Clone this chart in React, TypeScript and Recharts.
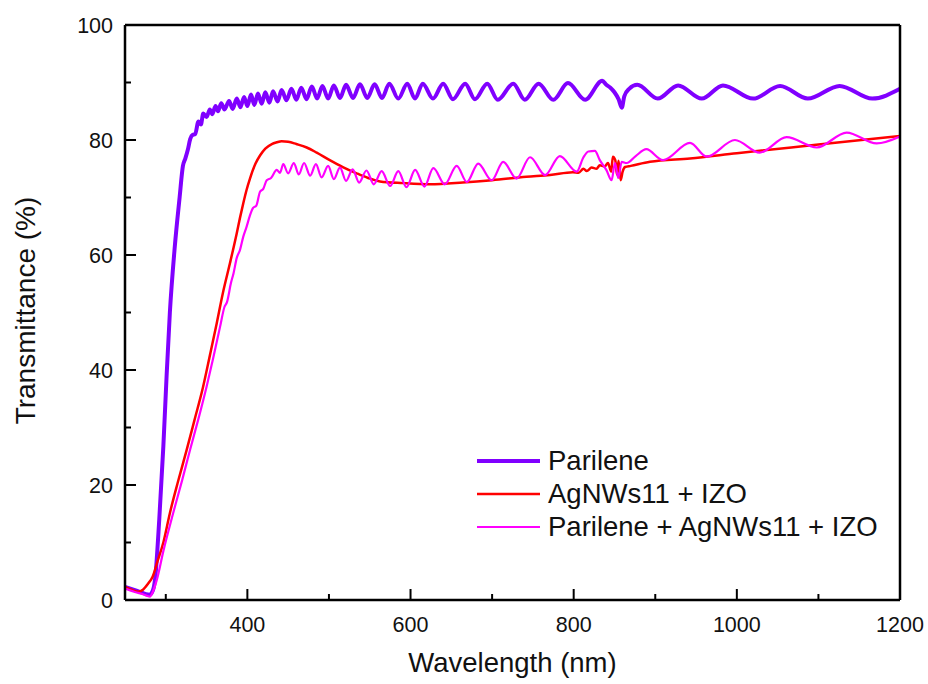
import React from "react";
import { LineChart, Line, XAxis, YAxis, Legend, Label } from "recharts";

// [wavelength (nm), transmittance (%)]
const PARILENE: [number, number][] = [
  [250, 2.3], [265, 1.6], [280, 0.9], [284, 1.6], [287, 3.8], [292, 14], [297, 26.7], [301, 39], [305, 50],
  [311, 61.4], [317, 70.1], [321, 75.5], [324, 76.8], [327, 78.3], [330, 80.2], [333, 80.9], [336, 81.0],
  [340, 83.2], [343, 82.7], [346, 84.6], [350, 84.0], [354, 85.3], [357, 84.5], [361, 85.9], [364, 85.0],
  [368, 86.4], [372, 85.3], [377.5, 86.8], [382, 85.4], [387, 87.2], [391.5, 85.7], [396, 87.5], [400, 85.9],
  [404.5, 87.9], [408.5, 86.1], [413, 88.1], [417.5, 86.3], [422, 88.3], [427, 86.5], [431.5, 88.5], [437, 86.7],
  [442, 88.7], [448, 86.9], [454, 88.9], [460, 87.0], [466, 89.1], [472.5, 87.1], [479, 89.3], [485.5, 87.2],
  [492, 89.4], [499, 87.2], [506, 89.5], [513.5, 87.3], [521, 89.6], [529.5, 87.3], [538, 89.7], [547, 87.3],
  [556, 89.7], [565, 87.3], [574, 89.8], [585, 87.2], [596, 89.8], [605.5, 87.2], [615, 89.8], [627.5, 87.2],
  [640, 89.8], [652, 87.1], [667, 89.8], [679, 87.1], [694, 89.8], [707, 87.0], [726, 89.8], [740, 87.0],
  [757, 89.8], [775, 87.0], [793, 89.9], [814, 87.0], [835, 90.3], [840, 89.6], [845, 89.1], [850, 88.3],
  [855, 87.1], [859, 85.6], [862, 87.6], [868, 88.9], [878, 89.6], [903, 87.2], [928, 89.5], [957, 87.2],
  [983, 89.5], [1020, 87.2], [1053, 89.4], [1087, 87.2], [1126, 89.4], [1166, 87.2], [1200, 88.9],
];

const AGNW_IZO: [number, number][] = [
  [250, 2.3], [258, 1.8], [266, 1.45], [272, 1.8], [278, 2.8], [284, 4.1], [290, 6.8], [297, 10], [305, 15.1],
  [315, 20.6], [325.6, 26.1], [335, 31.2], [345.6, 37], [354, 42.5], [362.4, 48.1], [370, 53.4], [378.7, 58.6],
  [387, 63.8], [391, 66.5], [395, 69.0], [399, 71.3], [403, 73.2], [410, 75.9], [415.5, 77.3], [422, 78.5],
  [430, 79.3], [436, 79.6], [442, 79.8], [450, 79.7], [460, 79.3], [472.7, 78.7], [485, 77.8], [501, 76.5],
  [517, 75.3], [534, 74.2], [548, 73.4], [562.6, 72.8], [591, 72.5], [624, 72.3], [664, 72.6], [700, 73.0],
  [742, 73.6], [771, 73.9], [799, 74.4], [806, 74.3], [812, 75.0], [816, 74.6], [822, 75.2], [828, 75.0],
  [832, 75.6], [838, 75.4], [842, 76.0], [846, 74.5], [848, 77.1], [851, 76.5], [853, 74.0], [855, 76.4],
  [857.6, 73.0], [860, 74.5], [863, 75.3], [870, 75.5], [893.5, 76.2], [942.6, 76.8], [1000, 77.7],
  [1100, 79.2], [1200, 80.7],
];

const PARILENE_AGNW_IZO: [number, number][] = [
  [250, 2.0], [262, 1.4], [272, 1.0], [280.6, 0.6], [284, 1.4], [289, 3.5], [297, 8.5], [309, 15.1], [320, 20.8],
  [329.7, 26.1], [340, 31.5], [350, 37.1], [358, 42], [366.5, 47.5], [372, 51], [375, 51.8], [380, 55.2],
  [383, 56.8], [387, 59.5], [391, 60.9], [395, 63.2], [399, 64.9], [403, 66.8], [407, 68.2], [411, 68.6],
  [415.5, 71.0], [419.5, 71.5], [423.7, 73.0], [429, 73.4], [436, 74.8], [440, 74.3],
  [444, 75.8], [450, 74.2], [457, 76.0], [463, 74.0], [469.5, 76.0], [477, 73.8], [484, 75.8], [491, 73.5],
  [499, 75.5], [506, 73.2], [513.5, 75.2], [521, 72.9], [529, 74.9], [537, 72.6], [546, 74.7], [555, 72.3],
  [564.6, 74.6], [575, 72.0], [585, 74.6], [595, 71.8], [605.7, 74.8], [617, 71.9], [628, 75.1], [642, 72.3],
  [656.6, 75.5], [669, 72.7], [683, 75.9], [699.5, 73.0], [713.6, 76.2], [730, 73.3], [746.5, 77.0],
  [765, 73.9], [783, 77.2], [803.7, 74.5], [812, 77.0], [818, 78.0], [826, 78.1], [832, 76.5], [840, 74.8],
  [846.5, 73.0], [850.6, 76.0], [854.7, 73.4], [858.8, 76.2], [865, 76.0], [876, 77.2], [889, 78.4],
  [909.5, 76.5], [942.6, 79.5], [963, 77.1], [997.7, 80.0], [1028, 77.8], [1061, 80.5], [1098, 78.7],
  [1134.6, 81.3], [1171.4, 79.4], [1200, 80.6],
];

const X_TICKS = [300, 400, 500, 600, 700, 800, 900, 1000, 1100, 1200];
const X_MAJOR = [400, 600, 800, 1000, 1200];
const Y_TICKS = [0, 10, 20, 30, 40, 50, 60, 70, 80, 90, 100];
const Y_MAJOR = [0, 20, 40, 60, 80, 100];

const SERIES = [
  { name: "Parilene", data: PARILENE, color: "#8000FF", width: 4 },
  { name: "AgNWs11 + IZO", data: AGNW_IZO, color: "#FF0000", width: 2.5 },
  { name: "Parilene + AgNWs11 + IZO", data: PARILENE_AGNW_IZO, color: "#FF00FF", width: 2.2 },
];

const toRows = (arr: [number, number][]) => arr.map(([wl, t]) => ({ wl, t }));

const FONT = "'Liberation Sans', Arial, sans-serif";
const TEXT = "#111";

const XTick = (props: any) => {
  const { x, y, payload } = props;
  const major = X_MAJOR.includes(payload.value);
  return (
    <g>
      <line x1={x} x2={x} y1={y} y2={y - (major ? 11 : 6)} stroke="#000" strokeWidth={2} />
      {major && (
        <text x={x} y={y + 32} textAnchor="middle" fontSize={21.5} fontFamily={FONT} fill={TEXT}>
          {payload.value}
        </text>
      )}
    </g>
  );
};

const YTick = (props: any) => {
  const { x, y, payload } = props;
  const major = Y_MAJOR.includes(payload.value);
  return (
    <g>
      <line x1={x} x2={x + (major ? 11 : 6)} y1={y} y2={y} stroke="#000" strokeWidth={2} />
      {major && (
        <text x={x - 12} y={y + 7.5} textAnchor="end" fontSize={21.5} fontFamily={FONT} fill={TEXT}>
          {payload.value}
        </text>
      )}
    </g>
  );
};

const LegendContent = () => (
  <div style={{ fontFamily: FONT, color: TEXT }}>
    {SERIES.map((s) => (
      <div key={s.name} style={{ display: "flex", alignItems: "center", height: 33 }}>
        <svg width={66} height={10} style={{ display: "block" }}>
          <line x1={1} x2={64} y1={5} y2={5} stroke={s.color} strokeWidth={s.width} />
        </svg>
        <span style={{ fontSize: 27.5, marginLeft: 6, lineHeight: "33px", whiteSpace: "nowrap" }}>{s.name}</span>
      </div>
    ))}
  </div>
);

export default function App() {
  return (
    <div style={{ position: "absolute", left: 0, top: 0, background: "#fff" }}>
      <LineChart width={928} height={684} margin={{ top: 24, right: 27, bottom: 83, left: 124 }}>
        <XAxis
          dataKey="wl"
          type="number"
          domain={[250, 1200]}
          allowDataOverflow
          ticks={X_TICKS}
          tick={XTick}
          tickLine={false}
          tickSize={0}
          tickMargin={0}
          height={1}
          interval={0}
          axisLine={{ stroke: "#000", strokeWidth: 2.5 }}
        >
          <Label
            content={(p: any) => {
              const vb = p.viewBox;
              return (
                <text x={vb.x + vb.width / 2} y={672} textAnchor="middle" fontSize={27.5} fontFamily={FONT} fill={TEXT}>
                  Wavelength (nm)
                </text>
              );
            }}
          />
        </XAxis>
        <XAxis
          xAxisId="top"
          orientation="top"
          dataKey="wl"
          type="number"
          domain={[250, 1200]}
          allowDataOverflow
          tick={false}
          tickLine={false}
          height={1}
          axisLine={{ stroke: "#000", strokeWidth: 2.5 }}
        />
        <YAxis
          type="number"
          domain={[0, 100]}
          allowDataOverflow
          ticks={Y_TICKS}
          tick={YTick}
          tickLine={false}
          tickSize={0}
          tickMargin={0}
          width={1}
          interval={0}
          axisLine={{ stroke: "#000", strokeWidth: 2.5 }}
        >
          <Label
            content={(p: any) => {
              const vb = p.viewBox;
              const cy = vb.y + vb.height / 2 - 2;
              return (
                <text
                  x={35}
                  y={cy}
                  transform={`rotate(-90, 35, ${cy})`}
                  textAnchor="middle"
                  fontSize={28}
                  fontFamily={FONT}
                  fill={TEXT}
                >
                  Transmittance (%)
                </text>
              );
            }}
          />
        </YAxis>
        <YAxis
          yAxisId="right"
          orientation="right"
          type="number"
          domain={[0, 100]}
          allowDataOverflow
          tick={false}
          tickLine={false}
          width={1}
          axisLine={{ stroke: "#000", strokeWidth: 2.5 }}
        />
        {SERIES.map((s) => (
          <Line
            key={s.name}
            data={toRows(s.data)}
            dataKey="t"
            name={s.name}
            type="monotone"
            stroke={s.color}
            strokeWidth={s.width}
            dot={false}
            activeDot={false}
            isAnimationActive={false}
          />
        ))}
        <Legend
          layout="vertical"
          align="center"
          verticalAlign="middle"
          content={LegendContent}
          wrapperStyle={{ left: 476, top: 444, width: "auto", height: "auto" }}
        />
      </LineChart>
    </div>
  );
}
